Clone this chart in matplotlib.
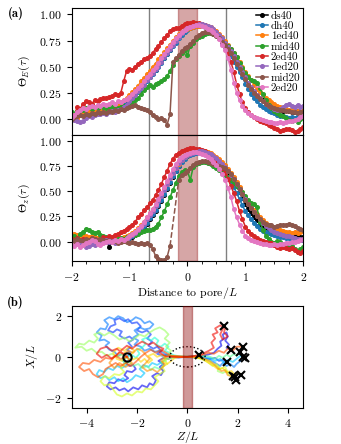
import numpy as np
import matplotlib.pyplot as plt
from matplotlib.ticker import MultipleLocator
from matplotlib.patches import Ellipse

plt.rcParams['font.family'] = 'cmr10'
plt.rcParams['mathtext.fontset'] = 'cm'
plt.rcParams['axes.formatter.use_mathtext'] = True
plt.rcParams['font.size'] = 8.5
plt.rcParams['axes.linewidth'] = 0.8

# ---- panel (a): profiles vs distance to pore ----
dist = np.linspace(-2, 2, 81)
labels = ['ds40', 'dh40', '1ed40', 'mid40', '2ed40', '1ed20', 'mid20', '2ed20']
colors = ['black', 'C0', 'C1', 'C2', 'C3', 'C4', 'C5', 'C6']
nan = np.nan

thetaE_ds40 = [0.03, 0.05, 0.04, 0.06, 0.07, 0.05, 0.07, 0.08, 0.07, 0.09,
               0.08, 0.10, 0.09, 0.11, 0.10, 0.12, 0.13, 0.12, 0.14, 0.16,
               0.18, 0.21, 0.24, 0.27, 0.30, 0.33, 0.37, 0.40, 0.44, 0.47,
               0.51, 0.55, 0.58, 0.62, 0.66, 0.72, 0.76, 0.79, 0.82, 0.84,
               0.86, 0.87, 0.88, 0.89, 0.90, 0.90, 0.89, 0.88, 0.87, 0.85,
               0.82, 0.79, 0.76, 0.72, 0.68, 0.64, 0.59, 0.54, 0.49, 0.44,
               0.39, 0.34, 0.30, 0.26, 0.23, 0.20, 0.18, 0.16, 0.14, 0.13,
               0.12, 0.10, 0.09, 0.08, 0.09, 0.08, 0.07, 0.07, 0.08, 0.07,
               0.08]
thetaE_dh40 = [0.02, 0.03, 0.05, 0.04, 0.06, 0.05, 0.07, 0.06, 0.08, 0.07,
               0.08, 0.07, 0.09, 0.10, 0.09, 0.11, 0.12, 0.13, 0.14, 0.15,
               0.17, 0.20, 0.23, 0.26, 0.29, 0.33, 0.36, 0.40, 0.43, 0.47,
               0.50, 0.54, 0.58, 0.62, 0.66, 0.70, 0.73, 0.77, 0.80, 0.83,
               0.85, 0.87, 0.88, 0.89, 0.89, 0.89, 0.88, 0.87, 0.85, 0.83,
               0.80, 0.77, 0.73, 0.69, 0.65, 0.60, 0.55, 0.50, 0.45, 0.40,
               0.34, 0.29, 0.24, 0.20, 0.17, 0.14, 0.12, 0.10, 0.08, 0.07,
               0.06, 0.04, 0.03, 0.03, 0.02, 0.01, 0.02, 0.01, 0.03, 0.04,
               0.06]
thetaE_1ed40 = [0.05, 0.03, 0.01, 0.04, 0.06, 0.05, 0.08, 0.07, 0.09, 0.08,
                0.10, 0.09, 0.11, 0.12, 0.11, 0.13, 0.14, 0.16, 0.18, 0.20,
                0.23, 0.26, 0.29, 0.32, 0.36, 0.39, 0.43, 0.46, 0.50, 0.53,
                0.57, 0.60, 0.64, 0.68, 0.71, 0.75, 0.78, 0.81, 0.83, 0.85,
                0.86, 0.87, 0.88, 0.89, 0.89, 0.90, 0.90, 0.89, 0.88, 0.86,
                0.84, 0.81, 0.78, 0.75, 0.71, 0.67, 0.63, 0.59, 0.55, 0.50,
                0.45, 0.41, 0.37, 0.33, 0.29, 0.26, 0.23, 0.20, 0.18, 0.16,
                0.15, 0.13, 0.12, 0.11, 0.10, 0.09, 0.09, 0.08, 0.08, 0.07,
                0.08]
thetaE_mid40 = [0.07, 0.05, 0.08, 0.10, 0.09, 0.11, 0.12, 0.10, 0.12, 0.11,
                0.13, 0.12, 0.11, 0.13, 0.12, 0.10, 0.11, 0.12, 0.13, 0.12,
                0.14, 0.16, 0.18, 0.20, 0.24, 0.28, 0.31, 0.33, 0.31, 0.34,
                0.35, 0.36, 0.38, 0.41, 0.46, 0.52, 0.57, 0.60, 0.63, 0.66,
                0.61, 0.70, 0.73, 0.76, 0.78, 0.79, 0.81, 0.82, 0.82, 0.81,
                0.80, 0.78, 0.76, 0.73, 0.70, 0.67, 0.63, 0.59, 0.54, 0.49,
                0.44, 0.40, 0.37, 0.36, 0.35, 0.30, 0.24, 0.18, 0.14, 0.11,
                0.08, 0.06, 0.04, 0.03, 0.01, -0.01, -0.02, -0.01, -0.03, 0.00,
                0.04]
thetaE_2ed40 = [0.04, 0.02, 0.12, 0.10, 0.15, 0.17, 0.16, 0.15, 0.18, 0.17,
                0.19, 0.20, 0.20, 0.21, 0.22, 0.24, 0.23, 0.25, 0.36, 0.46,
                0.48, 0.47, 0.50, 0.53, 0.55, 0.57, 0.58, 0.60, 0.63, 0.67,
                0.70, 0.74, 0.77, 0.80, 0.84, 0.86, 0.87, 0.87, 0.89, 0.91,
                0.92, 0.92, 0.93, 0.92, 0.92, 0.91, 0.90, 0.88, 0.86, 0.83,
                0.81, 0.78, 0.75, 0.70, 0.63, 0.55, 0.45, 0.33, 0.24, 0.16,
                0.11, 0.07, 0.04, 0.02, 0.00, -0.02, -0.03, -0.04, -0.05, -0.06,
                -0.08, -0.09, -0.11, -0.10, -0.09, -0.09, -0.10, -0.12, -0.11, -0.09,
                -0.07]
thetaE_1ed20 = [0.00, -0.01, -0.02, -0.03, -0.02, 0.01, 0.03, 0.02, 0.04, 0.05,
                0.05, 0.06, 0.05, 0.07, 0.08, 0.07, 0.09, 0.10, 0.12, 0.14,
                0.17, 0.20, 0.23, 0.27, 0.30, 0.33, 0.37, 0.40, 0.44, 0.48,
                0.51, 0.55, 0.59, 0.63, 0.67, 0.71, 0.75, 0.78, 0.82, 0.85,
                0.87, 0.88, 0.89, 0.90, 0.91, 0.91, 0.90, 0.89, 0.88, 0.86,
                0.83, 0.80, 0.77, 0.73, 0.69, 0.65, 0.60, 0.55, 0.50, 0.45,
                0.40, 0.35, 0.31, 0.27, 0.23, 0.20, 0.17, 0.15, 0.13, 0.12,
                0.10, 0.09, 0.10, 0.12, 0.14, 0.15, 0.13, 0.12, 0.14, 0.12,
                0.13]
thetaE_mid20 = [0.00, 0.02, 0.03, 0.04, 0.03, 0.05, 0.04, 0.06, 0.05, 0.07,
                0.06, 0.07, 0.06, 0.08, 0.07, 0.09, 0.08, 0.10, 0.09, 0.11,
                0.12, 0.13, 0.14, 0.12, 0.11, 0.10, 0.09, 0.07, 0.04, 0.02,
                0.00, 0.01, -0.01, -0.05, 0.05, 0.55, 0.58, 0.61, 0.65, 0.68,
                0.69, 0.72, 0.75, 0.78, 0.80, 0.82, 0.83, 0.83, 0.82, 0.81,
                0.79, 0.77, 0.74, 0.71, 0.67, 0.63, 0.58, 0.53, 0.48, 0.43,
                0.38, 0.33, 0.29, 0.25, 0.22, 0.19, 0.17, 0.15, 0.13, 0.12,
                0.11, 0.10, 0.09, 0.09, 0.08, 0.08, 0.07, 0.07, 0.06, 0.07,
                0.07]
thetaE_2ed20 = [0.02, 0.04, 0.07, 0.09, 0.11, 0.10, 0.12, 0.13, 0.12, 0.14,
                0.13, 0.15, 0.14, 0.15, 0.16, 0.15, 0.17, 0.16, 0.18, 0.19,
                0.21, 0.24, 0.27, 0.30, 0.33, 0.36, 0.40, 0.43, 0.47, 0.50,
                0.54, 0.58, 0.62, 0.66, 0.70, 0.74, 0.77, 0.80, 0.83, 0.85,
                0.87, 0.88, 0.89, 0.90, 0.90, 0.89, 0.88, 0.86, 0.85, 0.83,
                0.80, 0.76, 0.71, 0.66, 0.58, 0.47, 0.35, 0.25, 0.18, 0.13,
                0.09, 0.06, 0.04, 0.02, 0.01, 0.00, -0.01, -0.02, -0.03, -0.03,
                -0.04, -0.04, -0.03, -0.04, -0.03, -0.02, -0.02, -0.01, 0.00, 0.02,
                0.03]

thetaZ_ds40 = [0.02, 0.03, 0.01, 0.03, 0.02, 0.04, 0.02, 0.01, 0.03, 0.02,
               0.01, 0.00, 0.02, -0.05, 0.01, 0.00, 0.02, 0.01, 0.03, 0.02,
               0.04, 0.05, 0.07, 0.09, 0.12, 0.15, 0.18, 0.22, 0.26, 0.30,
               0.35, 0.40, 0.46, 0.52, 0.58, 0.64, 0.70, 0.75, 0.80, 0.83,
               0.85, 0.87, 0.88, 0.89, 0.89, 0.89, 0.88, 0.87, 0.86, 0.84,
               0.82, 0.79, 0.76, 0.73, 0.69, 0.65, 0.60, 0.55, 0.49, 0.43,
               0.37, 0.32, 0.28, 0.24, 0.21, 0.18, 0.15, 0.13, 0.12, 0.11,
               0.10, 0.09, 0.09, 0.08, 0.08, 0.07, 0.07, 0.06, 0.07, 0.05,
               0.05]
thetaZ_dh40 = [0.02, 0.01, 0.03, 0.02, 0.04, 0.03, 0.02, 0.01, 0.02, 0.03,
               0.02, 0.01, 0.00, 0.01, 0.02, 0.01, 0.02, 0.03, 0.02, 0.03,
               0.04, 0.06, 0.08, 0.10, 0.13, 0.16, 0.19, 0.23, 0.27, 0.31,
               0.36, 0.41, 0.47, 0.53, 0.59, 0.65, 0.70, 0.75, 0.79, 0.82,
               0.85, 0.86, 0.87, 0.88, 0.88, 0.88, 0.87, 0.86, 0.84, 0.82,
               0.79, 0.76, 0.72, 0.68, 0.64, 0.59, 0.54, 0.48, 0.42, 0.36,
               0.30, 0.26, 0.22, 0.19, 0.16, 0.13, 0.11, 0.10, 0.09, 0.08,
               0.07, 0.06, 0.05, 0.05, 0.04, 0.04, 0.03, 0.03, 0.02, 0.02,
               0.02]
thetaZ_1ed40 = [0.07, 0.08, 0.07, 0.06, 0.07, 0.06, 0.05, 0.06, 0.05, 0.04,
                0.05, 0.04, 0.03, 0.04, 0.03, 0.04, 0.05, 0.04, 0.05, 0.06,
                0.07, 0.09, 0.11, 0.14, 0.17, 0.20, 0.24, 0.28, 0.32, 0.36,
                0.41, 0.46, 0.52, 0.57, 0.63, 0.68, 0.73, 0.77, 0.81, 0.84,
                0.86, 0.88, 0.89, 0.90, 0.90, 0.90, 0.90, 0.89, 0.88, 0.86,
                0.84, 0.82, 0.79, 0.76, 0.72, 0.68, 0.64, 0.59, 0.54, 0.49,
                0.44, 0.39, 0.35, 0.31, 0.27, 0.24, 0.21, 0.19, 0.17, 0.15,
                0.14, 0.13, 0.12, 0.11, 0.10, 0.10, 0.09, 0.10, 0.09, 0.10,
                0.11]
thetaZ_mid40 = [0.05, 0.06, 0.04, 0.08, 0.10, 0.13, 0.12, 0.10, 0.09, 0.10,
                0.07, 0.06, 0.05, 0.03, 0.04, 0.02, 0.03, 0.04, 0.03, 0.05,
                0.06, 0.08, 0.07, 0.08, 0.10, 0.11, 0.12, 0.12, 0.13, 0.15,
                0.18, 0.24, 0.30, 0.37, 0.44, 0.51, 0.58, 0.65, 0.69, 0.71,
                0.70, 0.61, 0.74, 0.77, 0.78, 0.79, 0.79, 0.78, 0.77, 0.75,
                0.73, 0.71, 0.68, 0.66, 0.64, 0.61, 0.58, 0.55, 0.52, 0.49,
                0.45, 0.41, 0.38, 0.37, 0.34, 0.20, 0.12, 0.06, 0.03, 0.00,
                -0.01, 0.01, 0.00, -0.02, -0.03, -0.05, -0.04, -0.07, -0.10, -0.07,
                -0.05]
thetaZ_2ed40 = [0.03, 0.02, 0.04, 0.02, 0.03, 0.01, 0.02, 0.04, 0.03, 0.02,
                0.03, 0.05, 0.04, 0.06, 0.05, 0.07, 0.08, 0.10, 0.11, 0.13,
                0.15, 0.17, 0.20, 0.24, 0.27, 0.31, 0.34, 0.38, 0.41, 0.46,
                0.51, 0.57, 0.64, 0.70, 0.77, 0.82, 0.86, 0.88, 0.90, 0.91,
                0.92, 0.93, 0.93, 0.92, 0.92, 0.91, 0.90, 0.88, 0.86, 0.83,
                0.80, 0.77, 0.73, 0.68, 0.62, 0.55, 0.48, 0.40, 0.30, 0.22,
                0.15, 0.11, 0.08, 0.06, 0.04, 0.02, 0.01, 0.00, -0.01, -0.01,
                -0.03, -0.05, -0.06, -0.05, -0.06, -0.07, -0.06, -0.08, -0.10, -0.11,
                -0.09]
thetaZ_1ed20 = [0.01, -0.01, 0.00, -0.02, -0.03, -0.05, -0.04, -0.02, -0.03, -0.01,
                0.00, 0.01, 0.02, 0.00, 0.01, -0.01, 0.00, 0.01, 0.02, 0.03,
                0.05, 0.07, 0.09, 0.12, 0.15, 0.18, 0.22, 0.26, 0.30, 0.35,
                0.40, 0.45, 0.51, 0.57, 0.63, 0.68, 0.73, 0.78, 0.81, 0.84,
                0.86, 0.87, 0.88, 0.89, 0.90, 0.90, 0.89, 0.88, 0.87, 0.85,
                0.83, 0.80, 0.77, 0.74, 0.70, 0.66, 0.62, 0.57, 0.52, 0.47,
                0.42, 0.37, 0.33, 0.29, 0.25, 0.22, 0.19, 0.16, 0.14, 0.12,
                0.10, 0.09, 0.08, 0.07, 0.06, 0.06, 0.05, 0.04, 0.03, 0.03,
                0.02]
thetaZ_mid20 = [0.02, 0.01, 0.03, 0.02, 0.01, 0.03, 0.02, 0.04, 0.03, 0.02,
                0.03, 0.02, 0.01, 0.02, 0.00, 0.01, -0.01, 0.00, 0.01, 0.00,
                -0.01, 0.00, -0.01, -0.02, -0.01, -0.02, -0.01, -0.03, -0.07, -0.14,
                -0.17, -0.18, -0.18, -0.15, -0.04, nan, nan, 0.61, 0.66, 0.68,
                0.70, 0.73, 0.76, 0.78, 0.79, 0.80, 0.80, 0.79, 0.78, 0.77,
                0.76, 0.75, 0.74, 0.73, 0.70, 0.67, 0.62, 0.57, 0.52, 0.47,
                0.41, 0.37, 0.33, 0.29, 0.25, 0.22, 0.20, 0.18, 0.17, 0.17,
                0.15, 0.16, 0.17, 0.17, 0.17, 0.18, 0.17, 0.16, 0.14, 0.13,
                0.12]
thetaZ_2ed20 = [-0.03, -0.04, -0.02, -0.05, -0.03, -0.01, 0.00, 0.02, 0.01, -0.02,
                -0.03, -0.01, 0.00, 0.01, 0.00, 0.02, 0.01, 0.03, 0.02, 0.04,
                0.06, 0.08, 0.10, 0.13, 0.16, 0.20, 0.24, 0.28, 0.32, 0.37,
                0.42, 0.48, 0.54, 0.60, 0.66, 0.72, 0.77, 0.81, 0.84, 0.86,
                0.87, 0.88, 0.89, 0.89, 0.88, 0.87, 0.86, 0.84, 0.82, 0.79,
                0.76, 0.72, 0.67, 0.61, 0.53, 0.44, 0.32, 0.24, 0.17, 0.11,
                0.06, 0.04, 0.02, 0.01, 0.00, -0.01, -0.02, -0.02, -0.03, -0.03,
                -0.02, -0.03, -0.02, -0.02, -0.01, -0.01, 0.00, 0.00, 0.01, 0.02,
                0.03]

thetaE = [thetaE_ds40, thetaE_dh40, thetaE_1ed40, thetaE_mid40,
          thetaE_2ed40, thetaE_1ed20, thetaE_mid20, thetaE_2ed20]
thetaZ = [thetaZ_ds40, thetaZ_dh40, thetaZ_1ed40, thetaZ_mid40,
          thetaZ_2ed40, thetaZ_1ed20, thetaZ_mid20, thetaZ_2ed20]

# ---- panel (b): trajectories (Z, X) ----
t01 = [(-2.4, 0.0), (-2.3, -0.15), (-2.45, -0.3), (-2.3, -0.45), (-2.15, -0.4), (-2.05, -0.6),
       (-2.2, -0.75), (-2.4, -0.7), (-2.5, -0.9), (-2.35, -1.05), (-2.55, -1.2), (-2.75, -1.1),
       (-2.9, -1.3), (-3.1, -1.25), (-3.2, -1.45), (-3.05, -1.6), (-2.85, -1.5), (-2.7, -1.65),
       (-2.5, -1.55), (-2.35, -1.7), (-2.15, -1.5), (-1.95, -1.6), (-1.8, -1.4), (-1.6, -1.5),
       (-1.5, -1.3), (-1.35, -1.4), (-1.25, -1.15), (-1.4, -0.95), (-1.2, -0.8), (-1.05, -0.9),
       (-0.95, -0.7), (-1.1, -0.5), (-0.95, -0.35), (-1.15, -0.2), (-0.95, -0.05), (-0.75, -0.1),
       (-0.6, 0.0), (-0.35, -0.03), (0.0, 0.0), (0.35, 0.02), (0.6, 0.05), (0.85, 0.12),
       (1.05, 0.2), (1.2, 0.4), (1.35, 0.55), (1.3, 0.75), (1.45, 0.9), (1.4, 1.1),
       (1.55, 1.2), (1.6, 1.0), (1.5, 0.8), (1.65, 0.6), (1.55, 0.45), (1.74, 0.33)]
t02 = [(-2.4, 0.0), (-2.25, 0.2), (-2.4, 0.35), (-2.2, 0.5), (-2.35, 0.7), (-2.15, 0.85),
       (-2.3, 1.0), (-2.5, 0.9), (-2.7, 1.05), (-2.6, 1.25), (-2.8, 1.35), (-2.95, 1.2),
       (-3.15, 1.3), (-3.05, 1.5), (-2.85, 1.6), (-2.9, 1.8), (-2.7, 1.9), (-2.5, 1.75),
       (-2.35, 1.85), (-2.2, 1.65), (-2.0, 1.7), (-1.85, 1.5), (-2.0, 1.3), (-1.8, 1.2),
       (-1.6, 1.3), (-1.45, 1.1), (-1.6, 0.9), (-1.4, 0.75), (-1.55, 0.55), (-1.35, 0.4),
       (-1.2, 0.5), (-1.05, 0.3), (-1.2, 0.15), (-1.0, 0.05), (-0.8, 0.1), (-0.6, 0.03),
       (-0.3, 0.0), (0.0, -0.02), (0.3, -0.03), (0.6, -0.05), (0.9, -0.1), (1.1, -0.05),
       (1.25, -0.2), (1.4, -0.15), (1.5, -0.3), (1.57, -0.23)]
t03 = [(-2.4, 0.0), (-2.6, 0.15), (-2.75, 0.05), (-2.9, 0.25), (-3.1, 0.35), (-3.25, 0.55),
       (-3.1, 0.7), (-3.3, 0.85), (-3.5, 0.8), (-3.4, 1.05), (-3.6, 1.2), (-3.45, 1.4),
       (-3.25, 1.35), (-3.15, 1.6), (-3.3, 1.8), (-3.1, 1.95), (-2.9, 1.85), (-2.75, 2.0),
       (-2.55, 1.9), (-2.4, 1.7), (-2.2, 1.8), (-2.05, 1.95), (-1.85, 1.85), (-1.7, 1.65),
       (-1.5, 1.75), (-1.35, 1.6), (-1.5, 1.4), (-1.7, 1.35), (-1.9, 1.45), (-2.1, 1.3),
       (-1.95, 1.1), (-2.15, 0.95), (-1.95, 0.8), (-2.1, 0.6), (-1.85, 0.5), (-1.7, 0.3),
       (-1.5, 0.4), (-1.3, 0.25), (-1.1, 0.3), (-0.9, 0.15), (-0.7, 0.05), (-0.35, 0.02),
       (0.0, 0.0), (0.3, 0.0), (0.6, -0.05), (0.9, -0.15), (1.1, -0.3), (1.3, -0.45),
       (1.4, -0.3), (1.55, -0.45), (1.7, -0.35), (1.85, -0.5), (1.95, -0.35), (2.1, -0.2),
       (2.27, -0.07)]
t04 = [(-2.4, 0.0), (-2.55, -0.2), (-2.4, -0.4), (-2.6, -0.55), (-2.8, -0.45), (-2.95, -0.65),
       (-3.15, -0.55), (-3.3, -0.75), (-3.5, -0.65), (-3.6, -0.85), (-3.45, -1.05), (-3.25, -0.95),
       (-3.1, -1.15), (-2.9, -1.0), (-2.75, -1.2), (-2.55, -1.05), (-2.4, -1.25), (-2.2, -1.1),
       (-2.05, -0.9), (-1.85, -1.0), (-1.7, -0.8), (-1.9, -0.6), (-1.75, -0.4), (-1.55, -0.5),
       (-1.4, -0.3), (-1.2, -0.4), (-1.0, -0.25), (-0.85, -0.1), (-0.6, -0.04), (-0.3, -0.02),
       (0.0, 0.0), (0.3, 0.02), (0.6, 0.0), (0.9, -0.05), (1.1, -0.2), (1.3, -0.1),
       (1.45, -0.3), (1.6, -0.15), (1.8, -0.25), (1.95, -0.1), (2.1, 0.05), (2.2, 0.0)]
t05 = [(-2.4, 0.0), (-2.2, 0.1), (-2.05, -0.05), (-1.9, 0.15), (-2.0, 0.35), (-1.8, 0.45),
       (-1.65, 0.65), (-1.8, 0.85), (-1.6, 0.95), (-1.45, 0.8), (-1.3, 0.95), (-1.15, 0.8),
       (-1.25, 0.6), (-1.05, 0.5), (-0.9, 0.65), (-0.75, 0.5), (-0.9, 0.3), (-0.7, 0.2),
       (-0.55, 0.08), (-0.3, 0.02), (0.0, 0.0), (0.25, 0.03), (0.47, 0.08)]
t06 = [(-2.4, 0.0), (-2.6, -0.1), (-2.5, -0.3), (-2.3, -0.25), (-2.15, -0.45), (-1.95, -0.35),
       (-1.8, -0.55), (-1.6, -0.45), (-1.45, -0.65), (-1.3, -0.5), (-1.1, -0.6), (-0.95, -0.45),
       (-1.05, -0.25), (-0.85, -0.2), (-0.95, 0.0), (-0.75, 0.1), (-0.6, 0.02), (-0.3, 0.0),
       (0.0, 0.01), (0.3, 0.02), (0.6, 0.05), (0.9, 0.0), (1.1, -0.1), (1.25, 0.05),
       (1.4, -0.05), (1.55, 0.1), (1.7, 0.0), (1.85, 0.15), (1.95, 0.05), (2.07, 0.26)]
t07 = [(-2.4, 0.0), (-2.6, 0.1), (-2.8, 0.0), (-3.0, 0.15), (-3.2, 0.05), (-3.4, 0.25),
       (-3.6, 0.2), (-3.8, 0.4), (-4.0, 0.3), (-4.2, 0.5), (-4.45, 0.45), (-4.3, 0.65),
       (-4.1, 0.6), (-3.9, 0.8), (-3.7, 0.7), (-3.55, 0.9), (-3.7, 1.1), (-3.5, 1.2),
       (-3.3, 1.05), (-3.1, 1.2), (-2.9, 1.05), (-2.7, 0.85), (-2.5, 0.95), (-2.3, 0.75),
       (-2.1, 0.9), (-1.9, 1.1), (-1.7, 1.0), (-1.5, 1.2), (-1.3, 1.35), (-1.1, 1.45),
       (-0.9, 1.3), (-0.75, 1.1), (-0.9, 0.9), (-0.7, 0.7), (-0.85, 0.5), (-0.65, 0.3),
       (-0.75, 0.1), (-0.5, 0.03), (-0.25, 0.0), (0.0, 0.0), (0.3, -0.02), (0.6, -0.1),
       (0.9, -0.2), (1.05, -0.4), (1.25, -0.5), (1.2, -0.7), (1.4, -0.8), (1.55, -0.7),
       (1.65, -0.9), (1.87, -1.0)]
t08 = [(-2.4, 0.0), (-2.3, -0.2), (-2.5, -0.35), (-2.65, -0.55), (-2.5, -0.75), (-2.7, -0.9),
       (-2.9, -0.85), (-3.1, -1.05), (-3.3, -0.95), (-3.45, -1.2), (-3.3, -1.4), (-3.1, -1.35),
       (-2.95, -1.6), (-2.8, -1.85), (-2.6, -1.95), (-2.4, -1.8), (-2.2, -1.9), (-2.0, -1.7),
       (-1.8, -1.75), (-1.65, -1.55), (-1.45, -1.6), (-1.3, -1.4), (-1.15, -1.2), (-1.3, -1.0),
       (-1.1, -0.85), (-0.9, -0.7), (-1.0, -0.5), (-0.8, -0.35), (-0.9, -0.15), (-0.65, -0.05),
       (-0.35, 0.0), (0.0, 0.0), (0.3, -0.03), (0.55, -0.1), (0.8, -0.25), (1.0, -0.45),
       (1.15, -0.35), (1.3, -0.6), (1.5, -0.5), (1.6, -0.75), (1.8, -0.85), (1.94, -1.12)]
t09 = [(-2.4, 0.0), (-2.6, -0.2), (-2.8, -0.1), (-2.95, 0.2), (-2.75, 0.45), (-2.5, 0.3),
       (-2.3, 0.5), (-2.1, 0.3), (-2.25, 0.1), (-2.2, -0.15), (-2.0, -0.05), (-1.85, -0.25),
       (-1.7, -0.1), (-1.55, -0.3), (-1.4, -0.15), (-1.55, 0.05), (-1.35, 0.15), (-1.2, 0.0),
       (-1.0, 0.1), (-0.85, -0.05), (-1.0, -0.25), (-0.8, -0.35), (-0.65, -0.2), (-0.5, -0.05),
       (-0.3, 0.0), (0.0, 0.0), (0.3, 0.0), (0.6, -0.1), (0.85, -0.3), (1.05, -0.45),
       (1.2, -0.6), (1.4, -0.55), (1.55, -0.75), (1.75, -0.7), (1.9, -0.9), (2.0, -0.75),
       (2.14, -0.88)]
t10 = [(-2.4, 0.0), (-2.2, -0.3), (-2.45, -0.5), (-2.7, -0.3), (-2.9, -0.55), (-3.1, -0.3),
       (-2.9, 0.0), (-2.7, 0.2), (-2.55, 0.15), (-2.35, 0.3), (-2.15, 0.2), (-2.0, 0.4),
       (-1.8, 0.3), (-1.65, 0.1), (-1.5, -0.1), (-1.65, -0.3), (-1.8, -0.5), (-1.6, -0.7),
       (-1.4, -0.6), (-1.2, -0.75), (-1.05, -0.6), (-0.9, -0.4), (-1.05, -0.15), (-0.85, 0.0),
       (-0.6, 0.05), (-0.3, 0.02), (0.0, 0.0), (0.3, 0.0), (0.6, -0.05), (0.85, -0.2),
       (1.05, -0.35), (1.2, -0.55), (1.35, -0.7), (1.5, -0.65), (1.6, -0.9), (1.81, -0.96)]
t11 = [(-2.4, 0.0), (-2.65, -0.1), (-2.85, 0.05), (-3.05, -0.1), (-3.25, -0.05), (-3.45, -0.25),
       (-3.7, -0.15), (-3.9, -0.35), (-4.15, -0.3), (-4.3, -0.5), (-4.1, -0.7), (-3.9, -0.6),
       (-3.75, -0.85), (-3.55, -1.0), (-3.35, -0.85), (-3.25, -0.6), (-3.05, -0.45), (-2.85, -0.3),
       (-2.65, -0.45), (-2.45, -0.3), (-2.25, -0.45), (-2.05, -0.25), (-1.85, 0.0), (-1.65, 0.2),
       (-1.45, 0.35), (-1.25, 0.2), (-1.05, 0.35), (-0.85, 0.2), (-0.65, 0.05), (-0.35, 0.02),
       (0.0, 0.0), (0.3, 0.03), (0.6, 0.1), (0.85, 0.2), (1.05, 0.15), (1.25, 0.3),
       (1.45, 0.2), (1.6, 0.4), (1.8, 0.3), (1.95, 0.5), (2.2, 0.5)]
t12 = [(-2.4, 0.0), (-2.6, 0.2), (-2.8, 0.4), (-3.0, 0.3), (-3.2, 0.5), (-3.45, 0.4),
       (-3.6, 0.15), (-3.4, -0.05), (-3.2, 0.1), (-3.0, -0.1), (-2.8, 0.1), (-2.6, 0.35),
       (-2.4, 0.55), (-2.2, 0.4), (-2.0, 0.6), (-1.8, 0.75), (-1.55, 0.6), (-1.35, 0.7),
       (-1.15, 0.5), (-0.95, 0.4), (-1.1, 0.2), (-0.9, 0.05), (-0.65, 0.0), (-0.35, -0.02),
       (0.0, 0.0), (0.3, 0.05), (0.6, 0.15), (0.85, 0.3), (1.05, 0.45), (0.95, 0.7),
       (1.1, 0.9), (1.0, 1.1), (1.2, 1.2), (1.1, 1.4), (1.3, 1.55), (1.5, 1.4),
       (1.45, 1.2), (1.6, 1.0), (1.4, 0.85), (1.3, 1.1), (1.45, 1.5)]
paths = [t01, t02, t03, t04, t05, t06, t07, t08, t09, t10, t11, t12]
start = (-2.4, 0.0)


def draw_series(ax, y, c, label):
    y = np.asarray(y, dtype=float)
    ax.plot(dist, y, '-o', color=c, ms=2.6, lw=1.1, label=label)
    bad = np.isnan(y)
    if bad.any():
        idx = np.where(bad)[0]
        i0, i1 = idx[0] - 1, idx[-1] + 1
        ax.plot(dist[[i0, i1]], y[[i0, i1]], '--', color=c, lw=1.1)


fig = plt.figure(figsize=(3.41, 4.44), dpi=100)
ax1 = fig.add_axes([0.2097, 0.6959, 0.6798, 0.2861])
ax2 = fig.add_axes([0.2097, 0.4122, 0.6798, 0.2838])
ax3 = fig.add_axes([0.2097, 0.0818, 0.6798, 0.2290])

for ax, data in ((ax1, thetaE), (ax2, thetaZ)):
    ax.axvspan(-0.16, 0.16, color='darkred', alpha=0.35, zorder=0)
    for xv in (-2 / 3, 2 / 3):
        ax.axvline(xv, color='grey', lw=1.0, zorder=0.5)
    for y, c, lab in zip(data, colors, labels):
        draw_series(ax, y, c, lab)
    ax.set_xlim(-2, 2)
    ax.set_yticks([0, 0.25, 0.5, 0.75, 1.0])
    ax.tick_params(direction='out', length=3.5, width=0.8)

ax1.set_ylim(-0.15, 1.06)
ax2.set_ylim(-0.19, 1.055)
ax1.tick_params(axis='x', bottom=False, labelbottom=False)
ax2.set_xticks([-2, -1, 0, 1, 2])
ax2.xaxis.set_minor_locator(MultipleLocator(0.25))
ax2.tick_params(axis='x', which='minor', direction='out', length=2, width=0.6)
ax1.set_ylabel(r'$\Theta_E(\tau)$', labelpad=5)
ax2.set_ylabel(r'$\Theta_z(\tau)$', labelpad=5)
ax2.set_xlabel(r'Distance to pore$/L$', labelpad=2)

ax1.legend(loc='upper right', frameon=False, fontsize=8, handlelength=1.0,
           handletextpad=0.3, labelspacing=0.05, borderaxespad=0.15, borderpad=0.1)

# panel (b)
path_colors = plt.cm.jet(np.linspace(0.1, 0.9, len(paths)))
for p, c in zip(paths, path_colors):
    p = np.array(p)
    ax3.plot(p[:, 0], p[:, 1], color=c, lw=1.3, alpha=0.6, zorder=2)
for p in paths:
    ax3.plot(p[-1][0], p[-1][1], 'x', color='black', ms=6, mew=1.5, zorder=5)
ax3.plot(start[0], start[1], 'o', mfc='none', mec='black', ms=6, mew=1.5, zorder=5)
ax3.add_patch(Ellipse((0, 0), 1.4, 1.0, fill=False, ls=':', color='black', lw=1.0, zorder=3))
ax3.axvspan(-0.17, 0.17, color='darkred', alpha=0.4, zorder=4)
ax3.set_xlim(-4.6, 4.6)
ax3.set_ylim(-2.5, 2.5)
ax3.set_xticks([-4, -2, 0, 2, 4])
ax3.set_yticks([-2, 0, 2])
ax3.tick_params(direction='out', length=3.5, width=0.8)
ax3.set_xlabel(r'$Z/L$', labelpad=0)
ax3.set_ylabel(r'$X/L$')

fig.text(0.045, 1 - 14 / 444, '(a)', family='cmb10', fontsize=9, va='center', ha='center')
fig.text(0.045, 1 - 302 / 444, '(b)', family='cmb10', fontsize=9, va='center', ha='center')

fig.savefig('out.png', dpi=100)
